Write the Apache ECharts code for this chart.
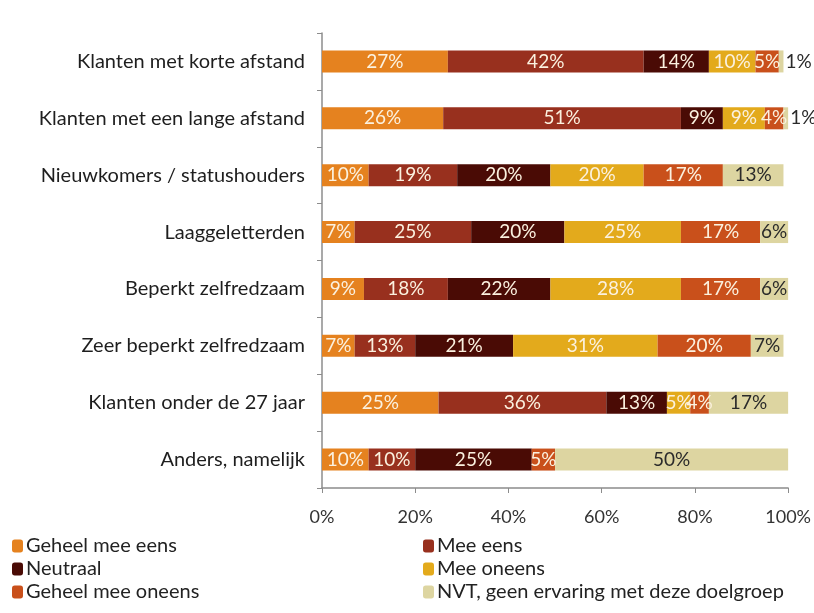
<!DOCTYPE html>
<html>
<head>
<meta charset="utf-8">
<script src="https://cdn.jsdelivr.net/npm/echarts@6/dist/echarts.min.js"></script>
<style>
  html, body { margin: 0; padding: 0; background: #ffffff; }
  #chart { width: 814px; height: 613px; }
</style>
</head>
<body>
<div id="chart"></div>
<script>
// Doelgroepen (top to bottom)
var categories = [
  'Klanten met korte afstand',
  'Klanten met een lange afstand',
  'Nieuwkomers / statushouders',
  'Laaggeletterden',
  'Beperkt zelfredzaam',
  'Zeer beperkt zelfredzaam',
  'Klanten onder de 27 jaar',
  'Anders, namelijk'
];

// Percentages per antwoordcategorie, same order as categories
var geheelMeeEens   = [27, 26, 10, 7, 9, 7, 25, 10];
var meeEens         = [42, 51, 19, 25, 18, 13, 36, 10];
var neutraal        = [14, 9, 20, 20, 22, 21, 13, 25];
var meeOneens       = [10, 9, 20, 25, 28, 31, 5, 0];
var geheelMeeOneens = [5, 4, 17, 17, 17, 20, 4, 5];
var nvt             = [1, 1, 13, 6, 6, 7, 17, 50];

var xTicks = [0, 20, 40, 60, 80, 100];

var FONT = 'Lato, "Open Sans", sans-serif';
var lightText = '#fbf1df';
var darkText = '#2a2a2a';

function makeSeries(name, values, color, textColor) {
  return {
    name: name,
    type: 'bar',
    stack: 'totaal',
    barWidth: 22,
    itemStyle: { color: color },
    label: {
      show: true,
      position: 'inside',
      color: textColor,
      fontFamily: FONT,
      fontSize: 19,
      formatter: function (p) { return p.value > 0 ? p.value + '%' : ''; }
    },
    data: values.map(function (v) {
      // very thin segments get their label just outside the bar end
      if (v > 0 && v < 3) {
        return { value: v, label: { position: 'right', distance: 2, color: darkText } };
      }
      return v;
    })
  };
}

var legendText = { fontFamily: FONT, fontSize: 20, color: '#222', padding: [0, 0, 0, -2] };

var option = {
  backgroundColor: '#ffffff',
  animation: false,
  grid: { left: 322, right: 24, top: 33, bottom: 125 },
  legend: [
    {
      orient: 'vertical',
      left: 7,
      top: 531,
      padding: 5,
      itemWidth: 11,
      itemHeight: 13,
      itemGap: 3,
      textStyle: legendText,
      data: ['Geheel mee eens', 'Neutraal', 'Geheel mee oneens']
    },
    {
      orient: 'vertical',
      left: 418,
      top: 531,
      padding: 5,
      itemWidth: 11,
      itemHeight: 13,
      itemGap: 3,
      textStyle: legendText,
      data: ['Mee eens', 'Mee oneens', 'NVT, geen ervaring met deze doelgroep']
    }
  ],
  xAxis: {
    type: 'value',
    min: 0,
    max: 100,
    interval: 20,
    splitLine: { show: false },
    axisLine: { show: true, lineStyle: { color: '#8c8c8c', width: 1.5 } },
    axisTick: { show: true, length: 5, lineStyle: { color: '#8c8c8c' } },
    axisLabel: {
      margin: 20,
      fontFamily: FONT,
      fontSize: 18,
      color: '#333',
      formatter: function (v) { return xTicks.indexOf(v) >= 0 ? v + '%' : ''; }
    }
  },
  yAxis: {
    type: 'category',
    inverse: true,
    data: categories,
    axisLine: { show: true, lineStyle: { color: '#8c8c8c', width: 1.5 } },
    axisTick: { show: true, length: 5, inside: false, lineStyle: { color: '#8c8c8c' } },
    axisLabel: {
      margin: 17,
      fontFamily: FONT,
      fontSize: 20,
      color: '#1e1e1e'
    }
  },
  series: [
    makeSeries('Geheel mee eens', geheelMeeEens, '#e5821f', lightText),
    makeSeries('Mee eens', meeEens, '#98301e', lightText),
    makeSeries('Neutraal', neutraal, '#4a0b05', lightText),
    makeSeries('Mee oneens', meeOneens, '#e3aa1c', lightText),
    makeSeries('Geheel mee oneens', geheelMeeOneens, '#c9501b', lightText),
    makeSeries('NVT, geen ervaring met deze doelgroep', nvt, '#ddd5a1', darkText)
  ]
};

var chart = echarts.init(document.getElementById('chart'), null, { renderer: 'canvas' });
chart.setOption(option);
</script>
</body>
</html>
